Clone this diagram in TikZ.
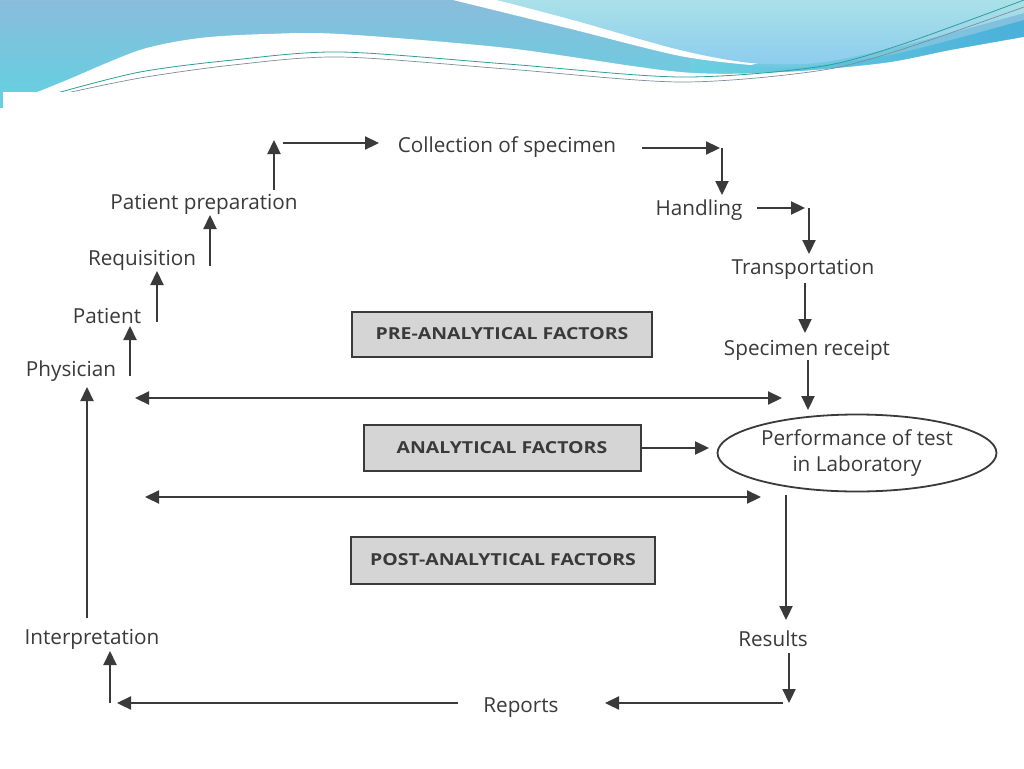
\documentclass[tikz,border=0pt]{standalone}
\usepackage{fontspec}
\setmainfont{Open Sans}
\newfontfamily\boxfont[FakeStretch=1.18]{Open Sans}
\usetikzlibrary{arrows.meta,shapes.geometric}
\definecolor{ink}{HTML}{3A3A3A}
\definecolor{boxgray}{HTML}{D5D5D5}
\definecolor{hdrT}{HTML}{8ABCDC}
\definecolor{hdrB}{HTML}{66CFE0}
\definecolor{ltcyan}{HTML}{AAE1E8}
\definecolor{ltcyanB}{HTML}{8CCCEE}
\definecolor{bandL}{HTML}{6CCFE0}
\definecolor{bandR}{HTML}{4BB0DA}
\definecolor{wline}{HTML}{2E9E9A}
\definecolor{gline}{HTML}{7D8E94}
\begin{document}
\begin{tikzpicture}[x=1pt,y=-1pt,
  lbl/.style={font=\fontsize{20.7}{26}\selectfont, text=ink, inner sep=0pt, align=center},
  factor/.style={draw=ink, line width=2pt, fill=boxgray, inner sep=0pt,
     font=\boxfont\bfseries\fontsize{16.5}{19}\selectfont, text=ink},
  arr/.style={draw=ink, line width=2.2pt, -{Triangle[length=14pt,width=13pt]}},
  darr/.style={draw=ink, line width=2.2pt, {Triangle[length=14pt,width=13pt]}-{Triangle[length=14pt,width=13pt]}}
]
\useasboundingbox (0,0) rectangle (1024,768);
\fill[white] (0,0) rectangle (1024,768);
% ---------- header ----------
\shade[top color=hdrT, bottom color=hdrB] (0,0) rectangle (1024,95);
\shade[left color=bandL, right color=bandR] plot[smooth] coordinates {(690,58) (784,68) (884,56) (951,40) (1024,20)}
   -- (1024,60) -- (690,90) -- cycle;
\fill[white] plot[smooth] coordinates {(453,0) (567,28) (680,56) (751,65)} -- (770,60) -- (497,0) -- cycle;
\shade[top color=ltcyan, bottom color=ltcyanB] plot[smooth] coordinates {(497,0) (573,20) (680,50) (751,63) (817,63) (884,50) (951,33) (1024,13)}
   -- (1024,0) -- cycle;
\fill[white] (0,96) -- plot[smooth] coordinates {(35,93) (67,80) (140,50) (200,38) (267,34) (340,34) (507,48) (680,72) (784,72) (884,63) (951,50) (1024,37)}
   -- (1024,100) -- (0,100) -- cycle;
\draw[wline, line width=0.8pt] plot[smooth] coordinates {(57,93) (140,72) (233,60) (340,52) (507,64) (680,77) (817,67) (900,45) (1024,0)};
\draw[gline, line width=0.7pt] plot[smooth] coordinates {(62,94) (140,78) (233,65) (340,57) (507,69) (680,82) (817,71) (900,50) (1024,7)};
\fill[white] (0,92) rectangle (1024,100);
\fill[hdrB] (0,92) rectangle (3,108);
% ---------- nodes ----------
\node[lbl] (physician) at (71,371) {Physician};
\node[lbl] (patient) at (107,316) {Patient};
\node[lbl] (requisition) at (142,260) {Requisition};
\node[lbl] (prep) at (204,204) {Patient preparation};
\node[lbl] (collection) at (507,147) {Collection of specimen};
\node[lbl] (handling) at (699,210) {Handling};
\node[lbl] (transport) at (803,269) {Transportation};
\node[lbl] (receipt) at (807,350) {Specimen receipt};
\node[draw=ink, line width=1.8pt, ellipse, minimum width=279pt, minimum height=77pt, inner sep=0pt,
      lbl] (perf) at (857,453) {Performance of test\\in Laboratory};
\node[factor, minimum width=300pt, minimum height=45pt] (pre) at (502,334) {PRE-ANALYTICAL FACTORS};
\node[factor, minimum width=277pt, minimum height=46pt] (ana) at (502,448) {ANALYTICAL FACTORS};
\node[factor, minimum width=304pt, minimum height=47pt] (post) at (503,560) {POST-ANALYTICAL FACTORS};
\node[lbl] (interp) at (92,639) {Interpretation};
\node[lbl] (results) at (773,639) {Results};
\node[lbl] (reports) at (521,708) {Reports};
% ---------- connector points ----------
\coordinate (a1s) at (130,376); \coordinate (a1e) at (130,326);
\coordinate (a2s) at (157,322); \coordinate (a2e) at (157,271);
\coordinate (a3s) at (210,266); \coordinate (a3e) at (210,215);
\coordinate (a4s) at (274,190); \coordinate (a4e) at (274,140);
\coordinate (a5s) at (283,143); \coordinate (a5e) at (379,143);
\coordinate (a6s) at (642,148); \coordinate (a6e) at (720,148);
\coordinate (a6c) at (722,148); \coordinate (a6d) at (722,195);
\coordinate (a7s) at (757,208); \coordinate (a7e) at (805,208);
\coordinate (a7c) at (809,208); \coordinate (a7d) at (809,254);
\coordinate (a8s) at (805,283); \coordinate (a8e) at (805,333);
\coordinate (a9s) at (808,360); \coordinate (a9e) at (808,410);
\coordinate (d1s) at (135,398); \coordinate (d1e) at (782,398);
\coordinate (a10e) at (709,448);
\coordinate (d2s) at (145,497); \coordinate (d2e) at (761,497);
\coordinate (a11s) at (786,495); \coordinate (a11e) at (786,620);
\coordinate (a12s) at (789,653); \coordinate (a12e) at (789,703);
\coordinate (a13s) at (783,703); \coordinate (a13e) at (605,703);
\coordinate (a14s) at (458,703); \coordinate (a14e) at (117,703);
\coordinate (a15s) at (110,703); \coordinate (a15e) at (110,651);
\coordinate (a16s) at (87,618); \coordinate (a16e) at (87,387);
% ---------- connectors ----------
\draw[arr] (a1s) -- (a1e);
\draw[arr] (a2s) -- (a2e);
\draw[arr] (a3s) -- (a3e);
\draw[arr] (a4s) -- (a4e);
\draw[arr] (a5s) -- (a5e);
\draw[arr] (a6s) -- (a6e);
\draw[arr] (a6c) -- (a6d);
\draw[arr] (a7s) -- (a7e);
\draw[arr] (a7c) -- (a7d);
\draw[arr] (a8s) -- (a8e);
\draw[arr] (a9s) -- (a9e);
\draw[darr] (d1s) -- (d1e);
\draw[arr] (ana.east) -- (a10e);
\draw[darr] (d2s) -- (d2e);
\draw[arr] (a11s) -- (a11e);
\draw[arr] (a12s) -- (a12e);
\draw[arr] (a13s) -- (a13e);
\draw[arr] (a14s) -- (a14e);
\draw[arr] (a15s) -- (a15e);
\draw[arr] (a16s) -- (a16e);
\end{tikzpicture}
\end{document}
